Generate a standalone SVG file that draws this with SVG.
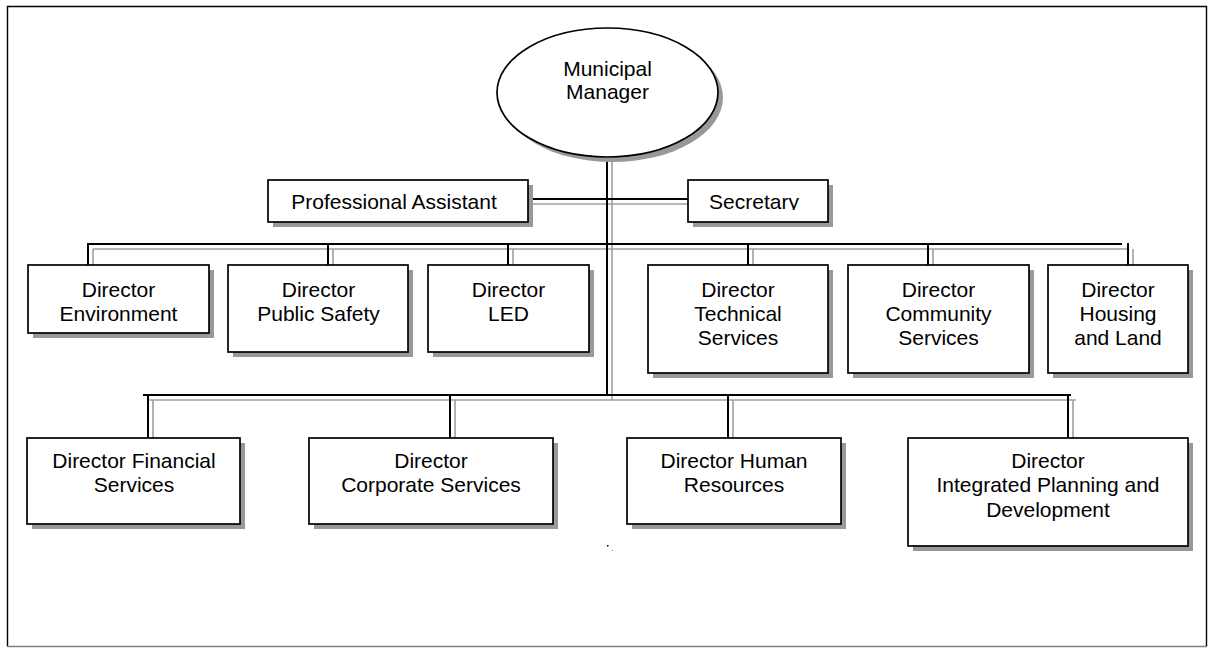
<svg xmlns="http://www.w3.org/2000/svg" width="1209" height="648" viewBox="0 0 1209 648">
<style>
.bg{fill:#ffffff}
.frame{fill:none;stroke:#000;stroke-width:1.4}
.sh{fill:#999999;stroke:none}
.box{fill:#ffffff;stroke:#000;stroke-width:1.7}
.t{font-family:"Liberation Sans",Arial,sans-serif;font-size:21px;fill:#000;text-anchor:middle}
.lk{stroke:#000;stroke-width:2;fill:none}
.lg{stroke:#a0a0a0;stroke-width:1.6;fill:none}
</style>
<defs>
<clipPath id="secClip"><rect x="688" y="180" width="140" height="30"/></clipPath>
</defs>
<rect class="bg" x="0" y="0" width="1209" height="648"/>
<path class="frame" d="M7.5,646.5 V6.5 H1206.5 V646.5"/>
<path d="M7.5,646.5 H1206.5" fill="none" stroke="#808080" stroke-width="1.4"/>

<g id="connectors">
  <path class="lg" d="M612,160 V400"/>
  <path class="lg" d="M533,204 H693"/>
  <path class="lg" d="M93,249 H1127"/>
  <path class="lg" d="M93,249 V270 M333,249 V270 M513,249 V270 M753,249 V270 M933,249 V270 M1133,249 V270"/>
  <path class="lg" d="M148,400 H1076"/>
  <path class="lg" d="M153,400 V443 M455,400 V443 M733,400 V443 M1073,400 V443"/>
  <path class="lk" d="M607,157 V395"/>
  <path class="lk" d="M528,199 H688"/>
  <path class="lk" d="M88,244 H1122"/>
  <path class="lk" d="M88,243 V265 M328,244 V265 M508,244 V265 M748,244 V265 M928,244 V265 M1128,243 V265"/>
  <path class="lk" d="M143,395 H1071"/>
  <path class="lk" d="M148,395 V438 M450,395 V438 M728,395 V438 M1068,395 V438"/>
</g>

<g id="municipal-manager">
  <ellipse class="sh" cx="612.5" cy="97.5" rx="110.5" ry="64.5"/>
  <ellipse class="box" cx="607.5" cy="92.5" rx="110.5" ry="64.5"/>
  <text class="t" x="607.5" y="76">Municipal</text>
  <text class="t" x="607.5" y="99">Manager</text>
</g>

<g id="professional-assistant">
  <rect class="sh" x="273" y="185" width="260" height="42"/>
  <rect class="box" x="268" y="180" width="260" height="42"/>
  <text class="t" x="394" y="209">Professional Assistant</text>
</g>

<g id="secretary">
  <rect class="sh" x="693" y="185" width="140" height="42"/>
  <rect class="box" x="688" y="180" width="140" height="42"/>
  <text class="t" x="754" y="209" clip-path="url(#secClip)">Secretary</text>
</g>

<g id="dir-environment">
  <rect class="sh" x="33" y="270" width="181" height="68"/>
  <rect class="box" x="28" y="265" width="181" height="68"/>
  <text class="t" x="118.5" y="297">Director</text>
  <text class="t" x="118.5" y="321">Environment</text>
</g>

<g id="dir-public-safety">
  <rect class="sh" x="233" y="270" width="180" height="87"/>
  <rect class="box" x="228" y="265" width="180" height="87"/>
  <text class="t" x="318.5" y="297">Director</text>
  <text class="t" x="318.5" y="321">Public Safety</text>
</g>

<g id="dir-led">
  <rect class="sh" x="433" y="270" width="161" height="87"/>
  <rect class="box" x="428" y="265" width="161" height="87"/>
  <text class="t" x="508.5" y="297">Director</text>
  <text class="t" x="508.5" y="321">LED</text>
</g>

<g id="dir-technical-services">
  <rect class="sh" x="653" y="270" width="180" height="108"/>
  <rect class="box" x="648" y="265" width="180" height="108"/>
  <text class="t" x="738" y="297">Director</text>
  <text class="t" x="738" y="321">Technical</text>
  <text class="t" x="738" y="345">Services</text>
</g>

<g id="dir-community-services">
  <rect class="sh" x="853" y="270" width="181" height="108"/>
  <rect class="box" x="848" y="265" width="181" height="108"/>
  <text class="t" x="938.5" y="297">Director</text>
  <text class="t" x="938.5" y="321">Community</text>
  <text class="t" x="938.5" y="345">Services</text>
</g>

<g id="dir-housing-land">
  <rect class="sh" x="1053" y="270" width="140" height="108"/>
  <rect class="box" x="1048" y="265" width="140" height="108"/>
  <text class="t" x="1118" y="297">Director</text>
  <text class="t" x="1118" y="321">Housing</text>
  <text class="t" x="1118" y="345">and Land</text>
</g>

<g id="dir-financial-services">
  <rect class="sh" x="32" y="443" width="213" height="86"/>
  <rect class="box" x="27" y="438" width="213" height="86"/>
  <text class="t" x="134" y="468">Director Financial</text>
  <text class="t" x="134" y="492">Services</text>
</g>

<g id="dir-corporate-services">
  <rect class="sh" x="314" y="443" width="244" height="86"/>
  <rect class="box" x="309" y="438" width="244" height="86"/>
  <text class="t" x="431" y="468">Director</text>
  <text class="t" x="431" y="492">Corporate Services</text>
</g>

<g id="dir-human-resources">
  <rect class="sh" x="632" y="443" width="214" height="86"/>
  <rect class="box" x="627" y="438" width="214" height="86"/>
  <text class="t" x="734" y="468">Director Human</text>
  <text class="t" x="734" y="492">Resources</text>
</g>

<g id="dir-integrated-planning">
  <rect class="sh" x="913" y="443" width="280" height="108"/>
  <rect class="box" x="908" y="438" width="280" height="108"/>
  <text class="t" x="1048" y="468">Director</text>
  <text class="t" x="1048" y="492">Integrated Planning and</text>
  <text class="t" x="1048" y="517">Development</text>
</g>

<rect x="607" y="545" width="1.5" height="1.5" fill="#000"/>
<rect x="612" y="550" width="1" height="1" fill="#888"/>
</svg>
